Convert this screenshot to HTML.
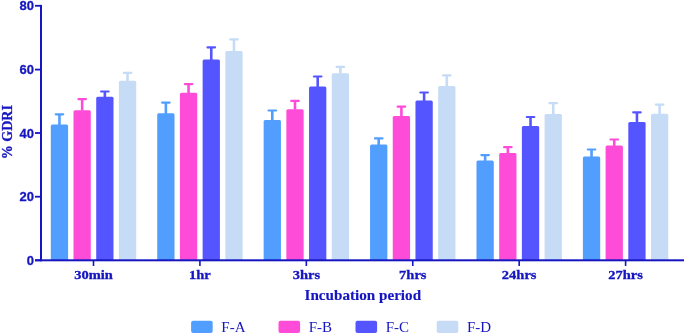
<!DOCTYPE html>
<html><head><meta charset="utf-8"><style>
html,body{margin:0;padding:0;background:#fff;}
body{width:685px;height:334px;overflow:hidden;}
svg{display:block;will-change:transform;}
.yl{font-family:"Liberation Sans",sans-serif;font-weight:bold;font-size:13px;fill:#1616c0;stroke:#1616c0;stroke-width:0.3px;}
.xl{font-family:"Liberation Serif",serif;font-weight:bold;font-size:14.5px;fill:#1616c0;stroke:#1616c0;stroke-width:0.35px;}
.xt{font-family:"Liberation Serif",serif;font-weight:bold;font-size:15.15px;fill:#1616c0;stroke:#1616c0;stroke-width:0.15px;}
.yt{font-family:"Liberation Serif",serif;font-weight:bold;font-size:14px;fill:#1616c0;stroke:#1616c0;stroke-width:0.3px;}
.lg{font-family:"Liberation Serif",serif;font-size:15px;fill:#1616c0;}
</style></head><body>
<svg width="685" height="334" viewBox="0 0 685 334">
<rect x="50.80" y="124.50" width="17.3" height="136.50" rx="1.5" fill="#529eff"/>
<rect x="58.15" y="114.35" width="2.6" height="10.65" fill="#529eff"/>
<rect x="54.60" y="113.25" width="9.7" height="2.2" rx="1.1" fill="#529eff"/>
<rect x="73.50" y="110.20" width="17.3" height="150.80" rx="1.5" fill="#ff4cd8"/>
<rect x="80.85" y="99.10" width="2.6" height="11.60" fill="#ff4cd8"/>
<rect x="77.30" y="98.00" width="9.7" height="2.2" rx="1.1" fill="#ff4cd8"/>
<rect x="96.20" y="96.80" width="17.3" height="164.20" rx="1.5" fill="#5555ff"/>
<rect x="103.55" y="91.50" width="2.6" height="5.80" fill="#5555ff"/>
<rect x="100.00" y="90.40" width="9.7" height="2.2" rx="1.1" fill="#5555ff"/>
<rect x="118.90" y="80.80" width="17.3" height="180.20" rx="1.5" fill="#c6dcf6"/>
<rect x="126.25" y="72.90" width="2.6" height="8.40" fill="#c6dcf6"/>
<rect x="122.70" y="71.80" width="9.7" height="2.2" rx="1.1" fill="#c6dcf6"/>
<rect x="157.22" y="113.30" width="17.3" height="147.70" rx="1.5" fill="#529eff"/>
<rect x="164.57" y="102.60" width="2.6" height="11.20" fill="#529eff"/>
<rect x="161.02" y="101.50" width="9.7" height="2.2" rx="1.1" fill="#529eff"/>
<rect x="179.92" y="92.70" width="17.3" height="168.30" rx="1.5" fill="#ff4cd8"/>
<rect x="187.27" y="84.10" width="2.6" height="9.10" fill="#ff4cd8"/>
<rect x="183.72" y="83.00" width="9.7" height="2.2" rx="1.1" fill="#ff4cd8"/>
<rect x="202.62" y="59.50" width="17.3" height="201.50" rx="1.5" fill="#5555ff"/>
<rect x="209.97" y="47.40" width="2.6" height="12.60" fill="#5555ff"/>
<rect x="206.42" y="46.30" width="9.7" height="2.2" rx="1.1" fill="#5555ff"/>
<rect x="225.32" y="51.10" width="17.3" height="209.90" rx="1.5" fill="#c6dcf6"/>
<rect x="232.67" y="39.40" width="2.6" height="12.20" fill="#c6dcf6"/>
<rect x="229.12" y="38.30" width="9.7" height="2.2" rx="1.1" fill="#c6dcf6"/>
<rect x="263.64" y="120.00" width="17.3" height="141.00" rx="1.5" fill="#529eff"/>
<rect x="270.99" y="110.50" width="2.6" height="10.00" fill="#529eff"/>
<rect x="267.44" y="109.40" width="9.7" height="2.2" rx="1.1" fill="#529eff"/>
<rect x="286.34" y="109.20" width="17.3" height="151.80" rx="1.5" fill="#ff4cd8"/>
<rect x="293.69" y="100.90" width="2.6" height="8.80" fill="#ff4cd8"/>
<rect x="290.14" y="99.80" width="9.7" height="2.2" rx="1.1" fill="#ff4cd8"/>
<rect x="309.04" y="86.40" width="17.3" height="174.60" rx="1.5" fill="#5555ff"/>
<rect x="316.39" y="76.50" width="2.6" height="10.40" fill="#5555ff"/>
<rect x="312.84" y="75.40" width="9.7" height="2.2" rx="1.1" fill="#5555ff"/>
<rect x="331.74" y="73.20" width="17.3" height="187.80" rx="1.5" fill="#c6dcf6"/>
<rect x="339.09" y="66.90" width="2.6" height="6.80" fill="#c6dcf6"/>
<rect x="335.54" y="65.80" width="9.7" height="2.2" rx="1.1" fill="#c6dcf6"/>
<rect x="370.06" y="144.50" width="17.3" height="116.50" rx="1.5" fill="#529eff"/>
<rect x="377.41" y="138.40" width="2.6" height="6.60" fill="#529eff"/>
<rect x="373.86" y="137.30" width="9.7" height="2.2" rx="1.1" fill="#529eff"/>
<rect x="392.76" y="116.00" width="17.3" height="145.00" rx="1.5" fill="#ff4cd8"/>
<rect x="400.11" y="106.70" width="2.6" height="9.80" fill="#ff4cd8"/>
<rect x="396.56" y="105.60" width="9.7" height="2.2" rx="1.1" fill="#ff4cd8"/>
<rect x="415.46" y="100.50" width="17.3" height="160.50" rx="1.5" fill="#5555ff"/>
<rect x="422.81" y="92.50" width="2.6" height="8.50" fill="#5555ff"/>
<rect x="419.26" y="91.40" width="9.7" height="2.2" rx="1.1" fill="#5555ff"/>
<rect x="438.16" y="86.10" width="17.3" height="174.90" rx="1.5" fill="#c6dcf6"/>
<rect x="445.51" y="75.40" width="2.6" height="11.20" fill="#c6dcf6"/>
<rect x="441.96" y="74.30" width="9.7" height="2.2" rx="1.1" fill="#c6dcf6"/>
<rect x="476.48" y="160.40" width="17.3" height="100.60" rx="1.5" fill="#529eff"/>
<rect x="483.83" y="155.10" width="2.6" height="5.80" fill="#529eff"/>
<rect x="480.28" y="154.00" width="9.7" height="2.2" rx="1.1" fill="#529eff"/>
<rect x="499.18" y="153.00" width="17.3" height="108.00" rx="1.5" fill="#ff4cd8"/>
<rect x="506.53" y="147.20" width="2.6" height="6.30" fill="#ff4cd8"/>
<rect x="502.98" y="146.10" width="9.7" height="2.2" rx="1.1" fill="#ff4cd8"/>
<rect x="521.88" y="126.10" width="17.3" height="134.90" rx="1.5" fill="#5555ff"/>
<rect x="529.23" y="117.00" width="2.6" height="9.60" fill="#5555ff"/>
<rect x="525.68" y="115.90" width="9.7" height="2.2" rx="1.1" fill="#5555ff"/>
<rect x="544.58" y="114.10" width="17.3" height="146.90" rx="1.5" fill="#c6dcf6"/>
<rect x="551.93" y="103.20" width="2.6" height="11.40" fill="#c6dcf6"/>
<rect x="548.38" y="102.10" width="9.7" height="2.2" rx="1.1" fill="#c6dcf6"/>
<rect x="582.90" y="156.50" width="17.3" height="104.50" rx="1.5" fill="#529eff"/>
<rect x="590.25" y="149.50" width="2.6" height="7.50" fill="#529eff"/>
<rect x="586.70" y="148.40" width="9.7" height="2.2" rx="1.1" fill="#529eff"/>
<rect x="605.60" y="145.40" width="17.3" height="115.60" rx="1.5" fill="#ff4cd8"/>
<rect x="612.95" y="139.50" width="2.6" height="6.40" fill="#ff4cd8"/>
<rect x="609.40" y="138.40" width="9.7" height="2.2" rx="1.1" fill="#ff4cd8"/>
<rect x="628.30" y="122.10" width="17.3" height="138.90" rx="1.5" fill="#5555ff"/>
<rect x="635.65" y="112.30" width="2.6" height="10.30" fill="#5555ff"/>
<rect x="632.10" y="111.20" width="9.7" height="2.2" rx="1.1" fill="#5555ff"/>
<rect x="651.00" y="113.80" width="17.3" height="147.20" rx="1.5" fill="#c6dcf6"/>
<rect x="658.35" y="104.60" width="2.6" height="9.70" fill="#c6dcf6"/>
<rect x="654.80" y="103.50" width="9.7" height="2.2" rx="1.1" fill="#c6dcf6"/>
<rect x="40" y="4.9" width="2" height="256.4" fill="#1616c0"/>
<rect x="35" y="259.3" width="649" height="2" fill="#1616c0"/>
<rect x="35" y="4.90" width="6" height="1.8" fill="#1616c0"/>
<text transform="translate(33.9,10.40) scale(1,1.02)" text-anchor="end" class="yl">80</text>
<rect x="35" y="68.70" width="6" height="1.8" fill="#1616c0"/>
<text transform="translate(33.9,74.20) scale(1,1.02)" text-anchor="end" class="yl">60</text>
<rect x="35" y="132.10" width="6" height="1.8" fill="#1616c0"/>
<text transform="translate(33.9,137.60) scale(1,1.02)" text-anchor="end" class="yl">40</text>
<rect x="35" y="195.80" width="6" height="1.8" fill="#1616c0"/>
<text transform="translate(33.9,201.30) scale(1,1.02)" text-anchor="end" class="yl">20</text>
<rect x="35" y="259.40" width="6" height="1.8" fill="#1616c0"/>
<text transform="translate(33.9,264.90) scale(1,1.02)" text-anchor="end" class="yl">0</text>
<rect x="92.70" y="260" width="1.6" height="6" fill="#1616c0"/>
<text transform="translate(93.50,279.3) scale(1,0.93)" text-anchor="middle" class="xl">30min</text>
<rect x="199.12" y="260" width="1.6" height="6" fill="#1616c0"/>
<text transform="translate(199.92,279.3) scale(1,0.93)" text-anchor="middle" class="xl">1hr</text>
<rect x="305.54" y="260" width="1.6" height="6" fill="#1616c0"/>
<text transform="translate(306.34,279.3) scale(1,0.93)" text-anchor="middle" class="xl">3hrs</text>
<rect x="411.96" y="260" width="1.6" height="6" fill="#1616c0"/>
<text transform="translate(412.76,279.3) scale(1,0.93)" text-anchor="middle" class="xl">7hrs</text>
<rect x="518.38" y="260" width="1.6" height="6" fill="#1616c0"/>
<text transform="translate(519.18,279.3) scale(1,0.93)" text-anchor="middle" class="xl">24hrs</text>
<rect x="624.80" y="260" width="1.6" height="6" fill="#1616c0"/>
<text transform="translate(625.60,279.3) scale(1,0.93)" text-anchor="middle" class="xl">27hrs</text>
<text transform="translate(362.8,300.2) scale(1,0.95)" text-anchor="middle" class="xt">Incubation period</text>
<text transform="translate(11.6,132.2) rotate(-90)" text-anchor="middle" class="yt">% GDRI</text>
<rect x="191.1" y="320.7" width="21.6" height="12.2" rx="2" fill="#529eff"/>
<text x="221.30" y="331.5" class="lg">F-A</text>
<rect x="278.5" y="320.7" width="21.6" height="12.2" rx="2" fill="#ff4cd8"/>
<text x="308.70" y="331.5" class="lg">F-B</text>
<rect x="355.5" y="320.7" width="21.6" height="12.2" rx="2" fill="#5555ff"/>
<text x="385.70" y="331.5" class="lg">F-C</text>
<rect x="436.7" y="320.7" width="21.6" height="12.2" rx="2" fill="#c6dcf6"/>
<text x="466.90" y="331.5" class="lg">F-D</text>
</svg>
</body></html>
